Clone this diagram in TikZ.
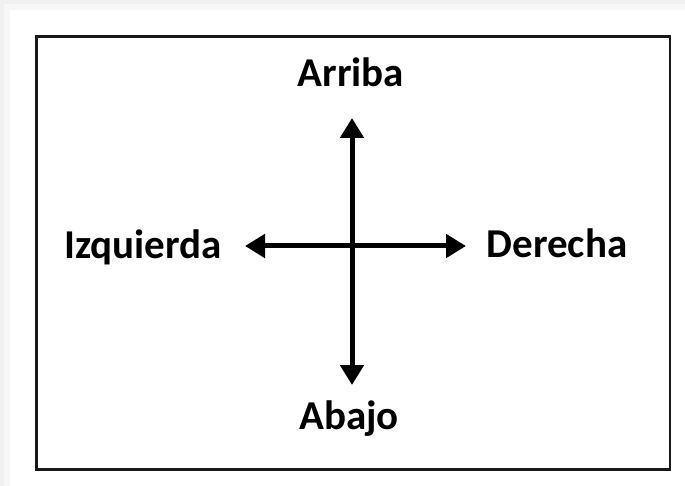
\documentclass[tikz,border=0pt]{standalone}
\usepackage{fontspec}
\setmainfont{Carlito}
\usetikzlibrary{arrows.meta}
\begin{document}
\begin{tikzpicture}[x=1pt,y=-1pt,
  lbl/.style={anchor=base,inner sep=0pt,font=\fontsize{41}{44}\selectfont\bfseries},
  dirarrow/.style={line width=5pt,{Triangle[width=23pt,length=20pt]}-{Triangle[width=23pt,length=20pt]}},
  frame/.style={draw=black!90,line width=2.4pt}]
\useasboundingbox (0,0) rectangle (685,486);
\fill[black!6] (0,0) rectangle (685,486);
\fill[black!3] (4,4) rectangle (685,486);
\fill[white] (10,10) rectangle (685,486);
\draw[frame] (36.5,36.5) rectangle (670,469.5);
\node[lbl] (arriba) at (351,87) {Arriba};
\node[lbl] (abajo) at (349,429) {Abajo};
\node[lbl] (izq) at (143,258.5) {Izquierda};
\node[lbl] (der) at (557,257.5) {Derecha};
\coordinate (up) at (352,118);
\coordinate (down) at (352,385);
\coordinate (left) at (245,246);
\coordinate (right) at (466,246);
\draw[dirarrow] (up) -- (down);
\draw[dirarrow] (left) -- (right);
\end{tikzpicture}
\end{document}
